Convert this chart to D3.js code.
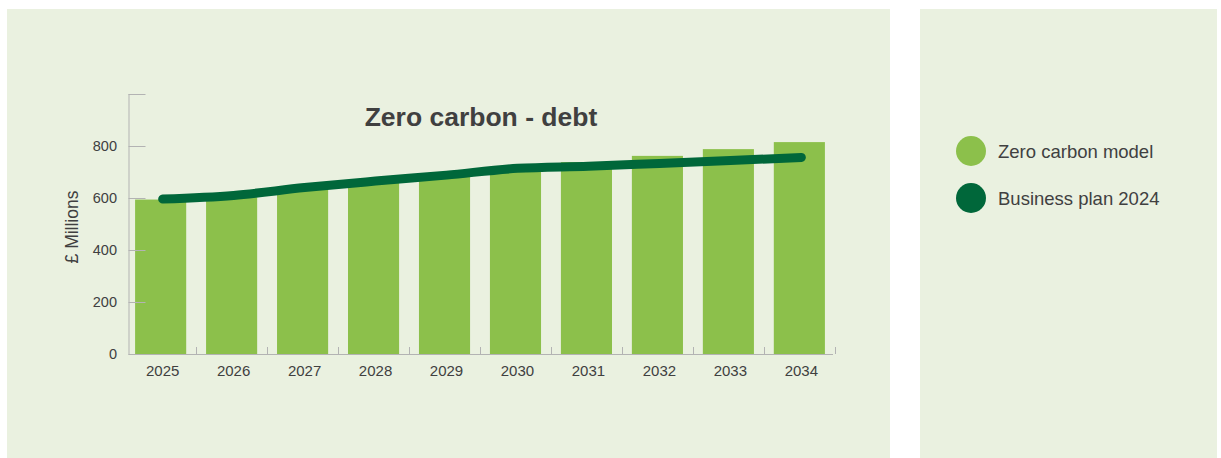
<!DOCTYPE html>
<html>
<head>
<meta charset="utf-8">
<script src="https://cdn.jsdelivr.net/npm/d3@7"></script>
<style>
  body { margin: 0; background: #fff; font-family: Arial, "Liberation Sans", sans-serif; }
  svg { display: block; }
</style>
</head>
<body>
<svg id="chart" width="1221" height="458"></svg>
<script>
const years = ["2025", "2026", "2027", "2028", "2029", "2030", "2031", "2032", "2033", "2034"];
const zeroCarbon = [594, 603, 633, 662, 685, 711, 738, 762, 788, 815];
const businessPlan = [596, 610, 640, 665, 688, 714, 722, 733, 744, 756];
const yTicks = [0, 200, 400, 600, 800, 1000];
const legendItems = ["Zero carbon model", "Business plan 2024"];

const bg = "#eaf1e0";
const barColor = "#8cc04b";
const lineColor = "#00673a";
const textColor = "#404040";
const axisColor = "#b3b3b3";

const svg = d3.select("#chart");

// panels
svg.append("rect").attr("x", 7).attr("y", 9).attr("width", 883).attr("height", 449).attr("fill", bg);
svg.append("rect").attr("x", 920).attr("y", 9).attr("width", 297).attr("height", 449).attr("fill", bg);

let x = d3.scaleBand().domain(years).range([128, 832]).paddingInner(0.28).paddingOuter(0.1);
let y = d3.scaleLinear().domain([0, 1000]).range([354, 94]);

let g = svg.append("g");

// bars
g.selectAll("rect.bar")
  .data(years)
  .enter()
  .append("rect")
  .attr("class", "bar")
  .attr("x", d => x(d))
  .attr("width", x.bandwidth())
  .attr("y", (d, i) => y(zeroCarbon[i]))
  .attr("height", (d, i) => y(0) - y(zeroCarbon[i]))
  .attr("fill", barColor);

// y axis (ticks point inward)
const yAxis = g.append("g")
  .attr("transform", "translate(128.5,0)")
  .call(d3.axisRight(y).tickValues(yTicks).tickSize(17).tickFormat(""));
yAxis.selectAll("line, path").attr("stroke", axisColor);
yAxis.select("path").attr("d", "M0.5," + y(1000) + "V" + y(0));

g.selectAll("text.ytick")
  .data(yTicks.filter(t => t < 1000))
  .enter()
  .append("text")
  .attr("class", "ytick")
  .attr("x", 117)
  .attr("y", d => y(d))
  .attr("dy", "0.35em")
  .attr("text-anchor", "end")
  .attr("font-size", 14.5)
  .attr("fill", textColor)
  .text(d => d);

// x axis baseline with small upward ticks between categories
g.append("line")
  .attr("x1", 128.5).attr("x2", 833)
  .attr("y1", y(0) + 0.5).attr("y2", y(0) + 0.5)
  .attr("stroke", axisColor);
const gap = x.step() - x.bandwidth();
g.selectAll("line.xtick")
  .data(years)
  .enter()
  .append("line")
  .attr("class", "xtick")
  .attr("x1", d => Math.round(x(d) + x.bandwidth() + gap / 2) + 0.5)
  .attr("x2", d => Math.round(x(d) + x.bandwidth() + gap / 2) + 0.5)
  .attr("y1", y(0) - 7)
  .attr("y2", y(0))
  .attr("stroke", axisColor);

g.selectAll("text.xlabel")
  .data(years)
  .enter()
  .append("text")
  .attr("class", "xlabel")
  .attr("x", d => x(d) + x.bandwidth() / 2 + 2)
  .attr("y", 371)
  .attr("dy", "0.35em")
  .attr("text-anchor", "middle")
  .attr("font-size", 15)
  .attr("fill", textColor)
  .text(d => d);

// line
const line = d3.line()
  .x((d, i) => x(years[i]) + x.bandwidth() / 2 + 2)
  .y(d => y(d))
  .curve(d3.curveMonotoneX);
g.append("path")
  .datum(businessPlan)
  .attr("d", line)
  .attr("fill", "none")
  .attr("stroke", lineColor)
  .attr("stroke-width", 9)
  .attr("stroke-linecap", "round")
  .attr("stroke-linejoin", "round");

// title
svg.append("text")
  .attr("x", 481)
  .attr("y", 117)
  .attr("dy", "0.35em")
  .attr("text-anchor", "middle")
  .attr("font-size", 26.5)
  .attr("font-weight", "bold")
  .attr("fill", textColor)
  .text("Zero carbon - debt");

// y label
svg.append("text")
  .attr("transform", "translate(72,227) rotate(-90)")
  .attr("dy", "0.35em")
  .attr("text-anchor", "middle")
  .attr("font-size", 17.5)
  .attr("fill", textColor)
  .text("£ Millions");

// legend
const legend = svg.append("g");
legend.selectAll("circle")
  .data(legendItems)
  .enter()
  .append("circle")
  .attr("cx", 971)
  .attr("cy", (d, i) => 151 + i * 47)
  .attr("r", 15)
  .attr("fill", (d, i) => i === 0 ? barColor : lineColor);
legend.selectAll("text")
  .data(legendItems)
  .enter()
  .append("text")
  .attr("x", 998)
  .attr("y", (d, i) => 152 + i * 47)
  .attr("dy", "0.35em")
  .attr("font-size", 18.5)
  .attr("fill", textColor)
  .text(d => d);
</script>
</body>
</html>
